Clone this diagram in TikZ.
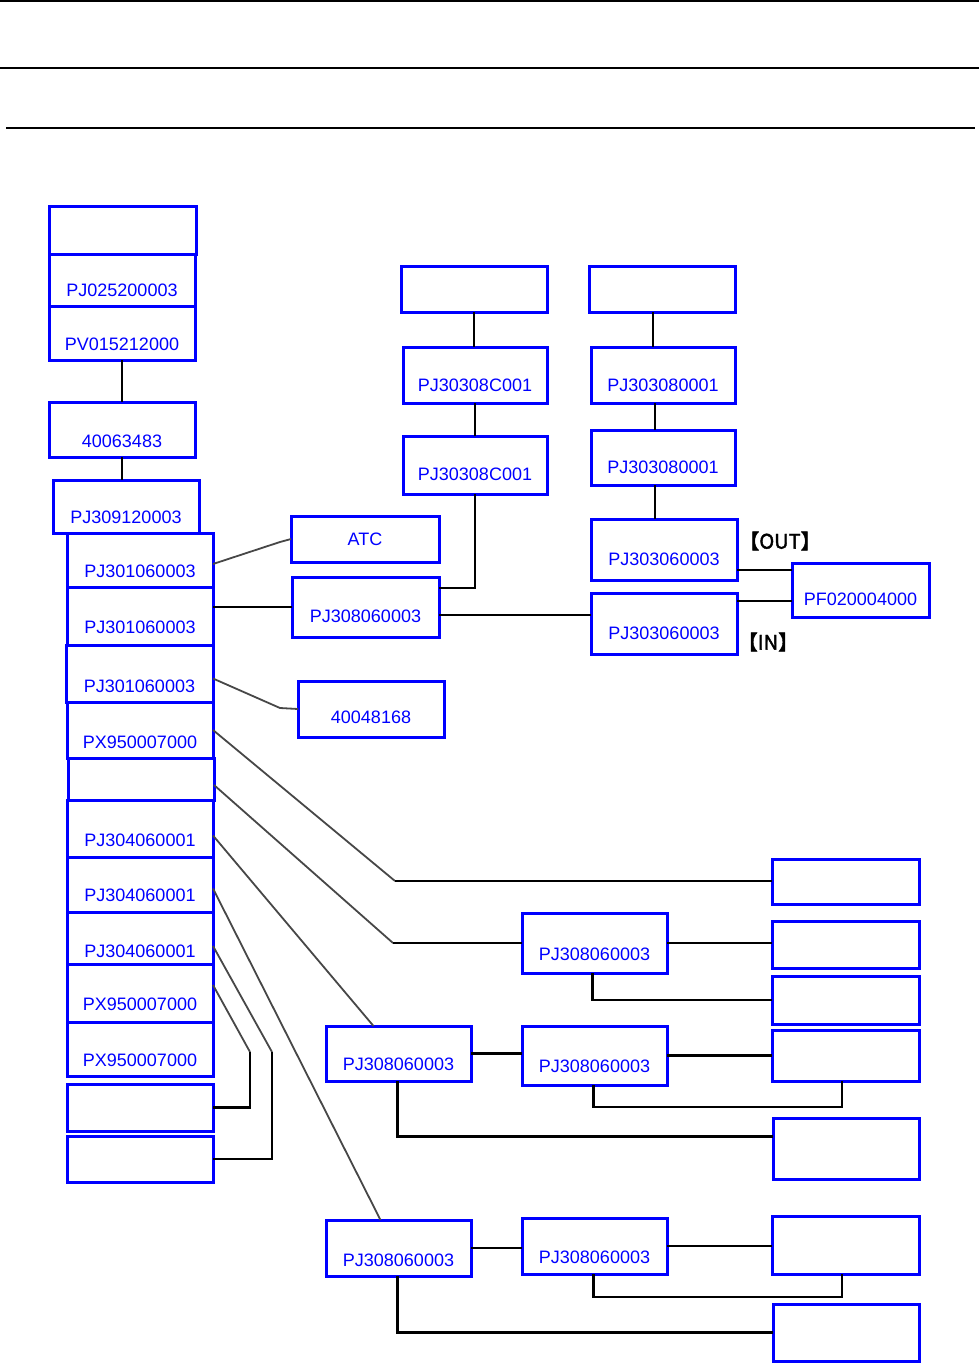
\documentclass[tikz,border=0pt]{standalone}
\usepackage{fontspec}
\usepackage{tikz}
\newfontfamily\partfont{Liberation Sans}
\newfontfamily\cjk[FakeBold=2,RawFeature=+halt]{Noto Sans CJK SC}
\definecolor{wiregray}{gray}{0.28}

\begin{document}
\begin{tikzpicture}[x=1pt,y=-1pt,
    part/.style={draw=blue, line width=3pt, text=blue, inner sep=0pt, outer sep=0pt,
      anchor=north west, minimum width=146pt, font=\partfont\fontsize{18pt}{20pt}\selectfont},
    tb/.style 2 args={part, text height=#1pt, text depth=#2pt},
    wire/.style={line width=2.4pt},
    slant/.style={draw=wiregray, line width=1.8pt},
    tag/.style={font=\cjk\fontsize{20pt}{22pt}\selectfont, inner sep=0pt}]
  \useasboundingbox (0,0) rectangle (979,1363);
  % header rules
  \draw[line width=1.4pt] (0,1) -- (979,1);
  \draw[line width=1.3pt] (0,68) -- (979,68);
  \draw[line width=2.6pt] (6,128) -- (975,128);

  % left stack
  \node[part, minimum height=48pt, minimum width=147pt] at (49,206) (n0){};
  \node[tb={42}{10}] at (49,254) (pj1){PJ025200003};
  \node[tb={44}{10}] at (49,306) (pv1){PV015212000};
  \node[tb={45}{10}] at (49,402) (c48){40063483};
  \node[tb={43}{10}] at (53,480) (pj2){PJ309120003};
  \node[tb={44}{10}] at (67,533) (s1){PJ301060003};
  \node[tb={46}{12}] at (67,587) (s2){PJ301060003};
  \node[tb={47}{10}, minimum width=147pt] at (66,645) (s3){PJ301060003};
  \node[tb={46}{10}] at (67,702) (x1){PX950007000};
  \node[part, minimum height=42pt] at (68,758) (e1){};
  \node[tb={46}{11}] at (67,800) (h1){PJ304060001};
  \node[tb={44}{11}] at (67,857) (h2){PJ304060001};
  \node[tb={45}{7}] at (67,912) (h3){PJ304060001};
  \node[tb={46}{12}] at (67,964) (x2){PX950007000};
  \node[tb={44}{10}] at (67,1022) (x3){PX950007000};
  \node[part, minimum height=47pt] at (67,1084) (e2){};
  \node[part, minimum height=46pt] at (67,1136) (e3){};

  % upper middle and right
  \node[part, minimum height=46pt] at (401,266) (t1){};
  \node[tb={44}{12}, minimum width=144pt] at (403,347) (t2){PJ30308C001};
  \node[tb={44}{14}, minimum width=144pt] at (403,436) (t3){PJ30308C001};
  \node[part, minimum height=46pt] at (589,266) (u1){};
  \node[tb={44}{12}, minimum width=144pt] at (591,347) (u2){PJ303080001};
  \node[tb={43}{12}, minimum width=144pt] at (591,430) (u3){PJ303080001};
  \node[tb={46}{15}] at (591,519) (u4){PJ303060003};
  \node[tb={46}{15}] at (591,593) (u5){PJ303060003};
  \node[tb={42}{12}, minimum width=137pt] at (792,563) (pf){PF020004000};
  \node[tag] at (780,541) (out){【OUT】};
  \node[tag] at (768,642) (in){【IN】};
  \node[tb={29}{17}, minimum width=148pt] at (291,516) (atc){ATC};
  \node[tb={45}{15}, minimum width=147pt] at (292,577) (m1){PJ308060003};
  \node[tb={42}{14}] at (298,681) (c41){40048168};

  % lower branches
  \node[part, minimum height=45pt, minimum width=147pt] at (772,859) (r1){};
  \node[tb={47}{13}, minimum width=145pt] at (522,913) (a1){PJ308060003};
  \node[part, minimum height=47pt, minimum width=147pt] at (772,921) (r2){};
  \node[part, minimum height=48pt, minimum width=147pt] at (772,976) (r3){};
  \node[tb={44}{11}, minimum width=145pt] at (326,1026) (b1){PJ308060003};
  \node[tb={46}{13}, minimum width=145pt] at (522,1026) (c1){PJ308060003};
  \node[part, minimum height=51pt, minimum width=147pt] at (772,1030) (r4){};
  \node[part, minimum height=61pt] at (773,1118) (r5){};
  \node[tb={46}{10}, minimum width=145pt] at (326,1220) (d1){PJ308060003};
  \node[tb={45}{11}, minimum width=145pt] at (522,1218) (f1){PJ308060003};
  \node[part, minimum height=58pt, minimum width=147pt] at (772,1216) (r6){};
  \node[part, minimum height=57pt] at (773,1304) (r7){};

  % connectors
  \draw[wire] (pv1.south) -- (c48.north);
  \draw[wire] (c48.south) -- (c48.south |- pj2.north);
  \draw[slant] ([yshift=-4pt]s1.east) -- (280,542) -- (atc.west);
  \draw[wire] (m1.west) -- (m1.west -| s2.east);
  \draw[slant] ([yshift=-5pt]s3.east) -- (280,708) -- (c41.west);
  \draw[slant] (x1.east) -- (395,881);
  \draw[wire] (395,881) -- (395,881 -| r1.west);
  \draw[slant] ([yshift=-6pt]e1.east) -- (393,943);
  \draw[wire] (393,943) -- (a1.west);
  \draw[wire] (a1.east) -- (a1.east -| r2.west);
  \draw[wire] ([xshift=-2pt]a1.south) |- (r3.west);
  \draw[slant] ([yshift=-7pt]h1.east) -- ([xshift=-25pt]b1.north);
  \draw[slant] ([yshift=-4pt]h2.east) -- ([xshift=-18pt]d1.north);
  \draw[slant] ([yshift=-8pt]h3.east) -- (272,1052);
  \draw[wire] (272,1052) |- (e3.east);
  \draw[slant] ([yshift=8pt]x2.east) -- (250,1052);
  \draw[wire] (250,1052) |- (e2.east);
  \draw[wire] (b1.east) -- (b1.east -| c1.west);
  \draw[wire] (c1.east) -- (r4.west);
  \draw[wire] ([xshift=-1pt]c1.south) |- (842,1107) -- ([xshift=-3.5pt]r4.south);
  \draw[wire] ([xshift=-1pt]b1.south) |- ([yshift=12pt]r5.west);
  \draw[wire] (d1.east) -- (d1.east -| f1.west);
  \draw[wire] (f1.east) -- (f1.east -| r6.west);
  \draw[wire] ([xshift=-1pt]f1.south) |- (842,1297) -- ([xshift=-3.5pt]r6.south);
  \draw[wire] ([xshift=-1pt]d1.south) |- (r7.west);
  \draw[wire] (t1.south) -- (t1.south |- t2.north);
  \draw[wire] (t2.south) -- (t3.north);
  \draw[wire] (t3.south) |- ([yshift=19pt]m1.east);
  \draw[wire] ([yshift=-8pt]m1.east) -- ([yshift=-8pt]m1.east -| u5.west);
  \draw[wire] ([xshift=-9pt]u1.south) -- ([xshift=-9pt]u1.south |- u2.north);
  \draw[wire] ([xshift=-8pt]u2.south) -- ([xshift=-8pt]u2.south |- u3.north);
  \draw[wire] ([xshift=-8pt]u3.south) -- ([xshift=-8pt]u3.south |- u4.north);
  \draw[wire] ([yshift=-20.5pt]u4.east) -- ([yshift=-20.5pt]u4.east -| pf.west);
  \draw[wire] ([yshift=22.5pt]u5.east) -- ([yshift=22.5pt]u5.east -| pf.west);
\end{tikzpicture}
\end{document}
